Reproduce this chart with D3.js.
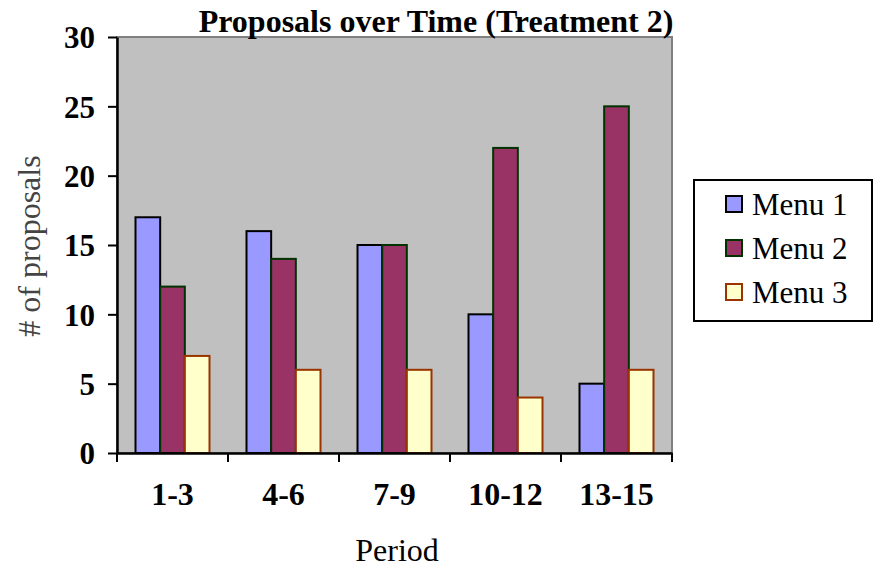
<!DOCTYPE html>
<html>
<head>
<meta charset="utf-8">
<script src="https://cdn.jsdelivr.net/npm/d3@7"></script>
<style>
  body { margin: 0; background: #fff; }
  svg { display: block; font-family: "Liberation Serif", "Times New Roman", serif; }
</style>
</head>
<body>
<svg id="chart" width="874" height="571"></svg>
<script>
// Data
const periods = ["1-3", "4-6", "7-9", "10-12", "13-15"];
const seriesNames = ["Menu 1", "Menu 2", "Menu 3"];
const menu1 = [17, 16, 15, 10, 5];
const menu2 = [12, 14, 15, 22, 25];
const menu3 = [7, 6, 6, 4, 6];
const yTicks = [0, 5, 10, 15, 20, 25, 30];

const fills = ["#9999ff", "#993366", "#ffffcc"];
const strokes = ["#000000", "#003300", "#993300"];

const svg = d3.select("#chart");
const plot = { left: 117, right: 672, top: 37, bottom: 453 };

const x = d3.scaleBand().domain(periods).range([plot.left, plot.right]);
const xInner = d3.scaleBand().domain(seriesNames).range([0, x.bandwidth()]).paddingOuter(0.75).paddingInner(0);
const y = d3.scaleLinear().domain([0, 30]).range([plot.bottom, plot.top]);

// plot background
svg.append("rect")
    .attr("x", plot.left).attr("y", plot.top)
    .attr("width", plot.right - plot.left).attr("height", plot.bottom - plot.top)
    .attr("fill", "#c0c0c0")
    .attr("stroke", "#808080").attr("stroke-width", 2);

// bars
const rows = periods.map((p, i) => ({ p, vals: [menu1[i], menu2[i], menu3[i]] }));
const groups = svg.append("g").selectAll("g").data(rows).enter().append("g")
    .attr("transform", (d) => `translate(${x(d.p)},0)`);
groups.selectAll("rect")
    .data((d) => d.vals.map((v, k) => ({ v, k })))
    .enter().append("rect")
    .attr("x", (d) => xInner(seriesNames[d.k]))
    .attr("y", (d) => y(d.v))
    .attr("width", xInner.bandwidth())
    .attr("height", (d) => y(0) - y(d.v))
    .attr("fill", (d) => fills[d.k])
    .attr("stroke", (d) => strokes[d.k])
    .attr("stroke-width", 2);

// y axis
const yAxis = svg.append("g")
    .attr("transform", `translate(${plot.left},0)`)
    .call(d3.axisLeft(y).tickValues(yTicks).tickSize(9).tickPadding(13).tickSizeOuter(0));
yAxis.select(".domain").attr("stroke", "#000").attr("stroke-width", 2.5);
yAxis.selectAll(".tick line").attr("stroke", "#000").attr("stroke-width", 2);
yAxis.selectAll(".tick text")
    .attr("font-family", "Liberation Serif")
    .attr("font-size", 31).attr("font-weight", "bold").attr("fill", "#000")
    .attr("dy", "0.35em");

// x axis
const xAxis = svg.append("g")
    .attr("transform", `translate(0,${plot.bottom})`)
    .call(d3.axisBottom(x).tickSize(0).tickPadding(29));
xAxis.select(".domain").attr("stroke", "#000").attr("stroke-width", 2.5);
xAxis.selectAll(".tick text")
    .attr("font-family", "Liberation Serif")
    .attr("font-size", 32).attr("font-weight", "bold").attr("fill", "#000");
const edges = periods.map((p) => x(p)).concat([plot.right]);
svg.append("g").selectAll("line").data(edges).enter().append("line")
    .attr("x1", (d) => d).attr("x2", (d) => d)
    .attr("y1", plot.bottom).attr("y2", plot.bottom + 9)
    .attr("stroke", "#000").attr("stroke-width", 2);

// title
svg.append("text")
    .attr("x", 436).attr("y", 32)
    .attr("text-anchor", "middle")
    .attr("font-size", 32).attr("font-weight", "bold")
    .text("Proposals over Time (Treatment 2)");

// axis titles
svg.append("text")
    .attr("x", 397).attr("y", 561)
    .attr("text-anchor", "middle")
    .attr("font-size", 32)
    .text("Period");

svg.append("text")
    .attr("transform", "translate(40,246) rotate(-90)")
    .attr("text-anchor", "middle")
    .attr("font-size", 32)
    .attr("fill", "#444")
    .text("# of proposals");

// legend
const legend = svg.append("g").attr("transform", "translate(694,180)");
legend.append("rect")
    .attr("width", 178).attr("height", 141)
    .attr("fill", "#fff").attr("stroke", "#000").attr("stroke-width", 2);
const items = legend.selectAll("g.item").data(seriesNames).enter().append("g")
    .attr("class", "item")
    .attr("transform", (d, i) => `translate(32,${24 + i * 44})`);
items.append("rect")
    .attr("x", 0).attr("y", -8)
    .attr("width", 16).attr("height", 16)
    .attr("fill", (d, i) => fills[i])
    .attr("stroke", (d, i) => strokes[i])
    .attr("stroke-width", 2);
items.append("text")
    .attr("x", 26).attr("y", 11)
    .attr("font-size", 31)
    .text((d) => d);
</script>
</body>
</html>
